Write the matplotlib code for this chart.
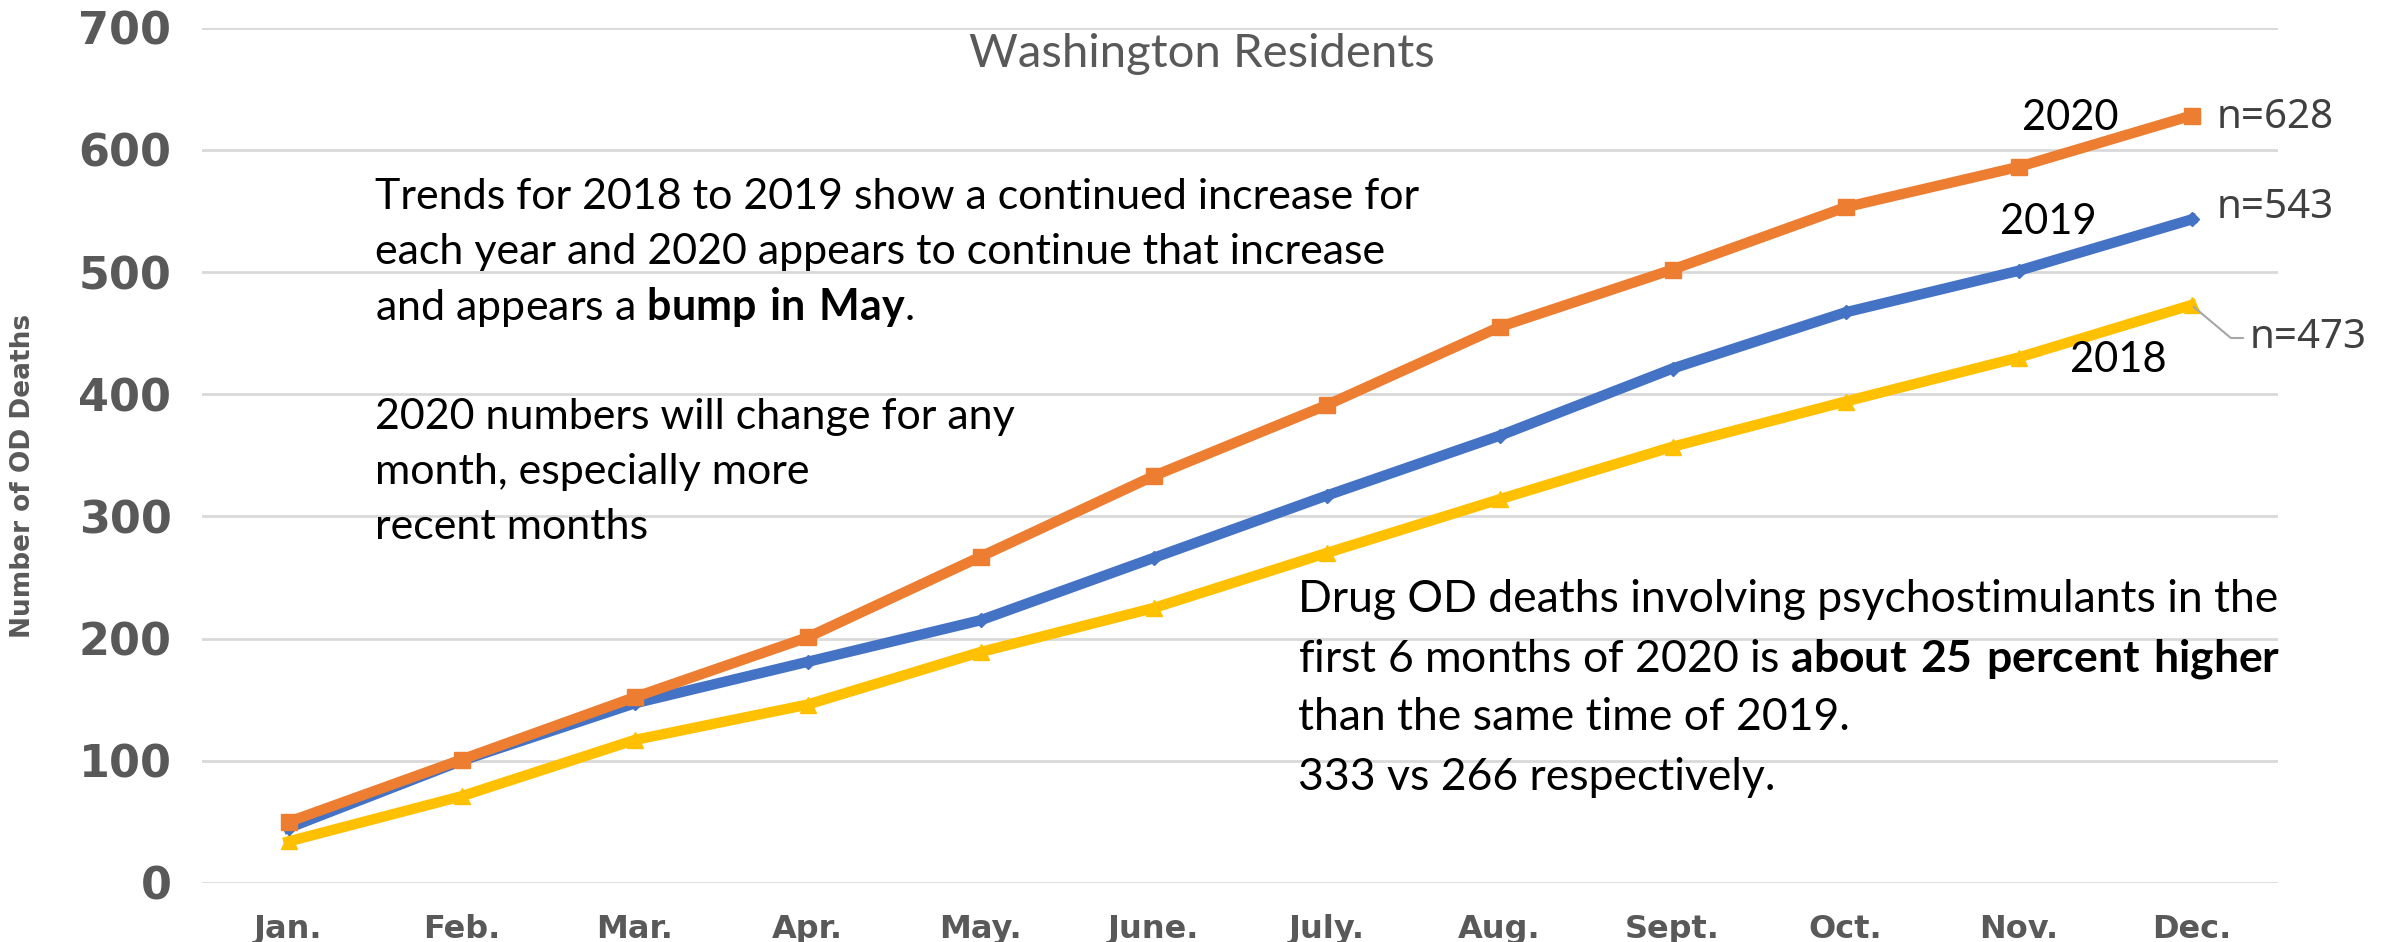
import matplotlib
matplotlib.use("Agg")
import matplotlib.pyplot as plt

months = ['Jan.', 'Feb.', 'Mar.', 'Apr.', 'May.', 'June.', 'July.', 'Aug.', 'Sept.', 'Oct.', 'Nov.', 'Dec.']
deaths_2018 = [34, 71, 117, 146, 189, 225, 270, 314, 357, 394, 430, 473]
deaths_2019 = [45, 100, 147, 181, 215, 266, 317, 366, 421, 467, 501, 543]
deaths_2020 = [50, 101, 152, 201, 267, 333, 391, 455, 502, 553, 586, 628]

W, H = 2400, 942
plt.rcParams['mathtext.fontset'] = 'custom'
plt.rcParams['mathtext.rm'] = 'Lato'
plt.rcParams['mathtext.bf'] = 'Lato:bold'

fig = plt.figure(figsize=(W / 100, H / 100), dpi=100)
ax = fig.add_axes([202 / W, 1 - 883 / H, (2278 - 202) / W, (883 - 27.6) / H])


def px(x, y):
    # figure pixel position (from top-left) -> figure fraction
    return x / W, 1 - y / H


x = list(range(len(months)))
ax.plot(x, deaths_2018, color='#FFC000', lw=7.5, marker='^', ms=11, zorder=3)
ax.plot(x, deaths_2019, color='#4472C4', lw=7.5, marker='D', ms=7, zorder=4)
ax.plot(x, deaths_2020, color='#ED7D31', lw=7.5, marker='s', ms=12, zorder=5)

ax.set_xlim(-0.5, 11.5)
ax.set_ylim(0, 700)
ax.set_yticks(range(0, 701, 100))
ax.set_xticks(x)
ax.set_xticklabels(months, fontsize=23, fontweight='bold', color='#595959',
                   family=['Liberation Sans Narrow', 'DejaVu Sans'])
for lab in ax.get_yticklabels():
    lab.set_fontsize(32)
    lab.set_fontweight('bold')
    lab.set_color('#595959')
ax.tick_params(axis='y', length=0, pad=22)
ax.tick_params(axis='x', length=0, pad=22)
ax.grid(axis='y', color='#D9D9D9', lw=2)
ax.set_axisbelow(True)
for s in ax.spines.values():
    s.set_visible(False)

fig.text(*px(23, 476), 'Number of OD Deaths', rotation=90, ha='center', va='center',
         fontsize=19, fontweight='bold', color='#595959',
         family=['Liberation Sans Narrow', 'DejaVu Sans'])

fig.text(*px(1202, 54), 'Washington Residents', ha='center', va='center',
         fontsize=34, color='#595959', family='Lato')

# series labels
fig.text(*px(2070, 118), '2020', ha='center', va='center', fontsize=30, family='Lato')
fig.text(*px(2048, 222), '2019', ha='center', va='center', fontsize=30, family='Lato')
fig.text(*px(2118, 360), '2018', ha='center', va='center', fontsize=30, family='Lato')
fig.text(*px(2217, 118), 'n=628', ha='left', va='center', fontsize=29, color='#404040', family='Noto Sans')
fig.text(*px(2217, 208), 'n=543', ha='left', va='center', fontsize=29, color='#404040', family='Noto Sans')
ax.annotate('n=473', xy=(11, deaths_2018[-1]), xytext=(2250, H - 338), textcoords='figure pixels',
            ha='left', va='center', fontsize=29, color='#404040', family='Noto Sans',
            arrowprops=dict(arrowstyle='-', color='#A6A6A6', lw=1.5, shrinkA=3, shrinkB=2,
                            connectionstyle='angle,angleA=0,angleB=-40,rad=0'))

# notes
note1 = ['Trends for 2018 to 2019 show a continued increase for',
         'each year and 2020 appears to continue that increase',
         r'and appears a $\mathbf{bump\ in\ May}$.',
         '',
         '2020 numbers will change for any',
         'month, especially more',
         'recent months']
for i, line in enumerate(note1):
    fig.text(*px(375, 197 + i * 55), line, ha='left', va='center', fontsize=31, family='Lato')

note2 = ['Drug OD deaths involving psychostimulants in the',
         r'first 6 months of 2020 is $\mathbf{about\ 25\ percent\ higher}$',
         'than the same time of 2019.',
         '333 vs 266 respectively.']
for i, line in enumerate(note2):
    fig.text(*px(1298, 600 + i * 59), line, ha='left', va='center', fontsize=32, family='Lato')

fig.savefig('out.png', dpi=100)
